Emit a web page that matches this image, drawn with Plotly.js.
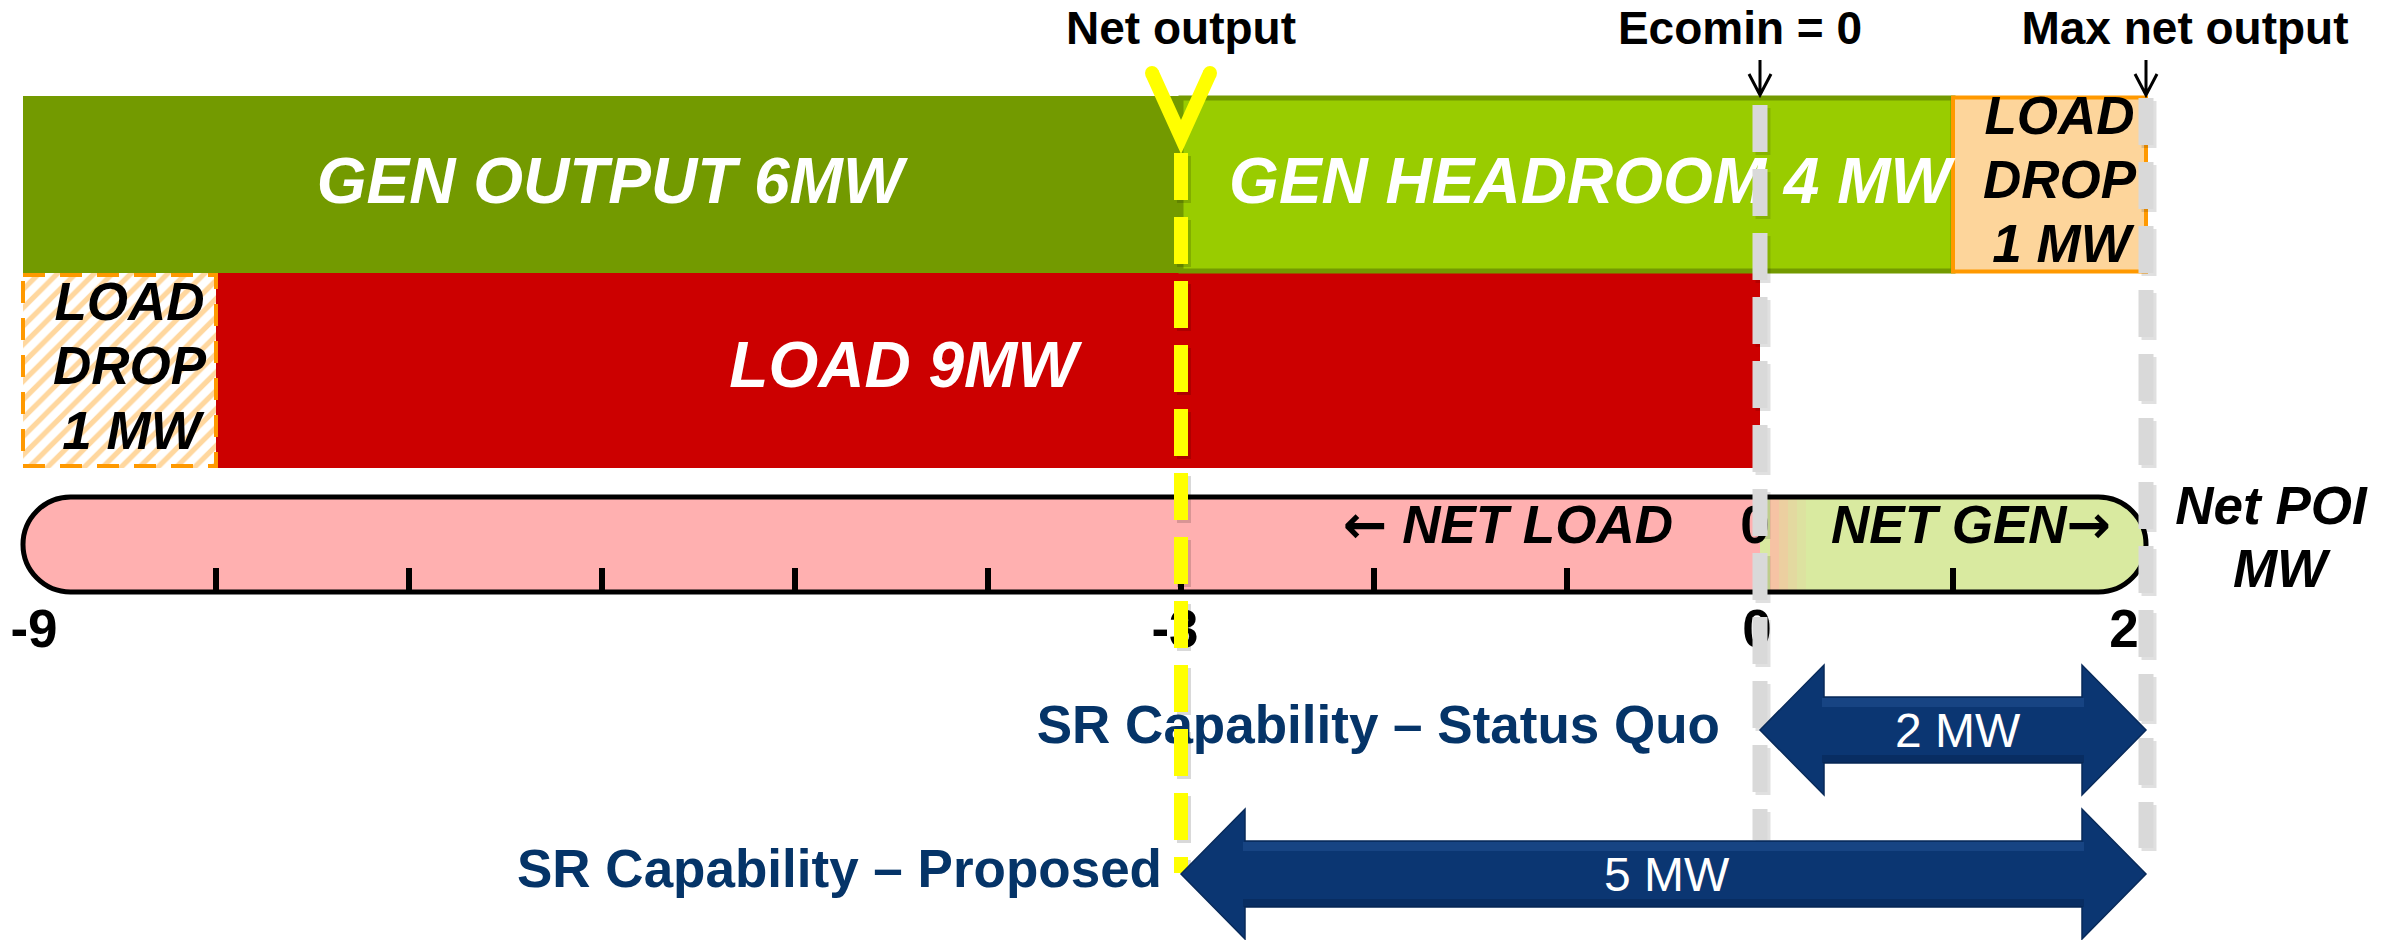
<!DOCTYPE html>
<html><head><meta charset="utf-8">
<script src="https://cdn.plot.ly/plotly-3.0.1.min.js"></script>
<style>html,body{margin:0;padding:0;background:#fff}#chart{width:2397px;height:940px}</style>
</head><body><div id="chart"></div>
<script>
// ---------------- data (MW on the Net POI axis) ----------------
const genOutputMW    = [-9, -3];
const genHeadroomMW  = [-3, 1];
const genLoadDropMW  = [1, 2];
const loadMW         = [-9, 0];
const loadDropMW     = [-9, -8];
const netLoadMW      = [-9, 0];
const netGenMW       = [0, 2];
const scaleTicksMW   = [-8, -7, -6, -5, -4, -3, -2, -1, 0, 1];
const axisLabelValues = [-9, -3, 0, 2];
const axisLabelText   = ['-9', '-3', '0', '2'];
const netOutputMW    = -3;
const ecominMW       = 0;
const maxNetOutputMW = 2;
const srStatusQuoMW  = [0, 2];
const srProposedMW   = [-3, 2];
const srStatusQuoLabel = '2 MW';
const srProposedLabel  = '5 MW';

// ---------------- geometry / style ----------------
const W = 2397, H = 940;
const PX_PER_UNIT = 193, ZERO_PX = 1760;
const px = p => p / PX_PER_UNIT;           // pixel length -> axis units
const mid = a => (a[0] + a[1]) / 2;
const ROW = {
  hdr: 32, arrowTop: 60, arrowBot: 95,
  genTop: 96, genBot: 273, loadBot: 468,
  pillTop: 497, pillBot: 592, tickTop: 568, axisLbl: 634,
  sq: 730, prop: 874
};
const C = {
  genOut: '#739a00', headroom: '#99cc00', load: '#cc0000',
  dropFill: '#fdd59b', orange: '#ff9900', pink: '#ffb0b0', green: '#d9eaa0',
  navy: '#0b3672', navyText: '#053468', gray: '#d9d9d9', yellow: '#ffff00'
};
const FAM = '"Liberation Sans", Arial, sans-serif';
const ARW = s => '<span style="font-family:\'DejaVu Sans\'">' + s + '</span>';

const shapes = [];
function rect(x, y0, y1, fill, line, lw, layer, dash) {
  shapes.push({type:'rect', xref:'x', yref:'y', x0:x[0], x1:x[1], y0:y0, y1:y1,
    fillcolor: fill, line:{color: line || 'rgba(0,0,0,0)', width: lw || 0, dash: dash || 'solid'},
    layer: layer || 'below'});
}
function path(d, fill, line, lw, layer) {
  shapes.push({type:'path', xref:'x', yref:'y', path:d, fillcolor: fill || 'rgba(0,0,0,0)',
    line:{color: line || 'rgba(0,0,0,0)', width: lw || 0}, layer: layer || 'below'});
}
function vline(x, y0, y1, color, w, dash, layer) {
  shapes.push({type:'line', xref:'x', yref:'y', x0:x, x1:x, y0:y0, y1:y1,
    line:{color:color, width:w, dash:dash || 'solid'}, layer: layer || 'above'});
}
const K = 0.5523;
function pillPath(xa, xb, top, bot, roundL, roundR) {
  const ry = (bot - top) / 2, rx = px(ry), m = (top + bot) / 2;
  let d = roundL ? `M${xa + rx},${top}` : `M${xa},${top}`;
  if (roundR) d += ` L${xb - rx},${top} C${xb - rx + K*rx},${top} ${xb},${m - K*ry} ${xb},${m} C${xb},${m + K*ry} ${xb - rx + K*rx},${bot} ${xb - rx},${bot}`;
  else d += ` L${xb},${top} L${xb},${bot}`;
  if (roundL) d += ` L${xa + rx},${bot} C${xa + rx - K*rx},${bot} ${xa},${m + K*ry} ${xa},${m} C${xa},${m - K*ry} ${xa + rx - K*rx},${top} ${xa + rx},${top}`;
  else d += ` L${xa},${bot}`;
  return d + ' Z';
}
function dblArrow(r, yc, head, headHalf, shaftHalf) {
  const a = r[0], b = r[1], h = px(head);
  return `M${a},${yc} L${a + h},${yc - headHalf} L${a + h},${yc - shaftHalf} L${b - h},${yc - shaftHalf} ` +
         `L${b - h},${yc - headHalf} L${b},${yc} L${b - h},${yc + headHalf} L${b - h},${yc + shaftHalf} ` +
         `L${a + h},${yc + shaftHalf} L${a + h},${yc + headHalf} Z`;
}

// ---- bars (below traces) ----
rect(genOutputMW, ROW.genTop, ROW.genBot, C.genOut);
rect(loadMW, ROW.genBot, ROW.loadBot, C.load);
rect(genHeadroomMW, ROW.genTop + 2, ROW.genBot - 2, C.headroom, C.genOut, 5);
rect(genLoadDropMW, ROW.genTop + 1.5, ROW.genBot - 1.5, C.dropFill, C.orange, 4);

// ---- Net POI scale pill ----
path(pillPath(netLoadMW[0], netLoadMW[1], ROW.pillTop, ROW.pillBot, true, false), C.pink);
path(pillPath(netGenMW[0], netGenMW[1], ROW.pillTop, ROW.pillBot, false, true), C.green);
// soft colour blend where NET LOAD meets NET GEN
const blend = ['#f6c3a4', '#eccfa0', '#e3d9a0', '#dde2a0'];
blend.forEach((c, i) => shapes.push({type:'rect', xref:'x', yref:'y',
  x0: netGenMW[0] + px(10 + i * 9), x1: netGenMW[0] + px(19 + i * 9),
  y0: ROW.pillTop, y1: ROW.pillBot, fillcolor: c, line:{width:0}, layer:'below'}));
path(pillPath(netLoadMW[0], netGenMW[1], ROW.pillTop, ROW.pillBot, true, true), null, '#000', 5);
scaleTicksMW.forEach(t => shapes.push({type:'line', xref:'x', yref:'y', x0:t, x1:t,
  y0:ROW.tickTop, y1:ROW.pillBot, line:{color:'#000', width:6}, layer:'below'}));

// ---- hatched load-drop border (above the pattern trace) ----
rect(loadDropMW, ROW.genBot + 2, ROW.loadBot - 2, 'rgba(0,0,0,0)', C.orange, 4, 'above', '22px,15px');

// ---- reference lines ----
const DASH = '47px,17px';
[[ecominMW, 105, 840], [maxNetOutputMW, 98, 848]].forEach(([x, a, b]) => {
  vline(x + px(3), a + 3, b + 3, 'rgba(0,0,0,0.12)', 15, DASH);
  vline(x, a, b, C.gray, 15, DASH);
});
vline(netOutputMW + px(3), 156, 873, 'rgba(0,0,0,0.15)', 14, DASH);
vline(netOutputMW, 153, 873, C.yellow, 14, DASH);
path(`M${netOutputMW - px(29)},73 L${netOutputMW},137 L${netOutputMW + px(29)},73`, null, C.yellow, 14, 'above');
[-1, 1].forEach(s => shapes.push({type:'circle', xref:'x', yref:'y',
  x0: netOutputMW + s * px(29) - px(7), x1: netOutputMW + s * px(29) + px(7), y0: 66, y1: 80,
  fillcolor: C.yellow, line:{width:0}, layer:'above'}));

// small black pointer arrows
[ecominMW, maxNetOutputMW].forEach(x => {
  path(`M${x},${ROW.arrowTop} L${x},${ROW.arrowBot} M${x - px(11)},${ROW.arrowBot - 21} L${x},${ROW.arrowBot} L${x + px(11)},${ROW.arrowBot - 21}`,
       null, '#000', 3, 'above');
});

// ---- SR capability arrows ----
[[srStatusQuoMW, ROW.sq], [srProposedMW, ROW.prop]].forEach(([r, yc]) => {
  path(dblArrow(r, yc, 64, 65, 33), C.navy, '#082a5a', 1.5, 'above');
  shapes.push({type:'rect', xref:'x', yref:'y', x0:r[0] + px(62), x1:r[1] - px(62),
    y0:yc - 32, y1:yc - 23, fillcolor:'rgba(70,120,190,0.22)', line:{width:0}, layer:'above'});
  shapes.push({type:'rect', xref:'x', yref:'y', x0:r[0] + px(62), x1:r[1] - px(62),
    y0:yc + 25, y1:yc + 33, fillcolor:'rgba(0,20,50,0.25)', line:{width:0}, layer:'above'});
});

// ---------------- traces ----------------
const traces = [];
// hatched left load-drop box
traces.push({type:'scatter', mode:'lines', hoverinfo:'skip', showlegend:false,
  x:[loadDropMW[0], loadDropMW[1], loadDropMW[1], loadDropMW[0], loadDropMW[0]],
  y:[ROW.genBot, ROW.genBot, ROW.loadBot, ROW.loadBot, ROW.genBot],
  fill:'toself', fillcolor:'#ffffff', line:{width:0},
  fillpattern:{shape:'/', fgcolor:'#ffd79e', bgcolor:'#ffffff', size:13, solidity:0.4}});

function textTrace(items, font) {
  traces.push({type:'scatter', mode:'text', hoverinfo:'skip', showlegend:false, cliponaxis:false,
    x: items.map(i => i[0]), y: items.map(i => i[1]), text: items.map(i => i[2]),
    textposition: items.map(i => i[3] || 'middle center'), textfont: font});
}
// headers
textTrace([
  [netOutputMW, ROW.hdr, 'Net output'],
  [ecominMW - px(20), ROW.hdr, 'Ecomin = 0'],
  [maxNetOutputMW + px(39), ROW.hdr, 'Max net output']
], {family:FAM, size:46, color:'#000', weight:'bold'});
// white bar labels
textTrace([
  [mid(genOutputMW) + px(8), 187, 'GEN OUTPUT 6MW'],
  [mid(genHeadroomMW) + px(23), 187, 'GEN HEADROOM 4 MW'],
  [mid(loadMW) + px(12), 371, 'LOAD 9MW']
], {family:FAM, size:64, color:'#fff', weight:'bold', style:'italic'});
// black italic labels
textTrace([
  [mid(loadDropMW) + px(10), 307, 'LOAD'], [mid(loadDropMW) + px(10), 371, 'DROP'], [mid(loadDropMW) + px(12), 436, '1 MW'],
  [mid(genLoadDropMW) + px(10), 121, 'LOAD'], [mid(genLoadDropMW) + px(10), 185, 'DROP'], [mid(genLoadDropMW) + px(12), 249, '1 MW'],
  [netLoadMW[1] - px(252), 530, ARW('\u2190') + ' NET LOAD'],
  [mid(netGenMW) + px(18), 530, 'NET GEN' + ARW('\u2192')],
  [maxNetOutputMW + px(125), 511, 'Net POI'],
  [maxNetOutputMW + px(134), 574, 'MW']
], {family:FAM, size:53, color:'#000', weight:'bold', style:'italic'});
// upright black numbers
const lblShift = [11, -6, -3, -22];
textTrace(axisLabelValues.map((v, i) => [v + px(lblShift[i]), ROW.axisLbl, axisLabelText[i]])
  .concat([[netGenMW[0] - px(5), 530, '0']]),
  {family:FAM, size:53, color:'#000', weight:'bold'});
// SR capability labels
textTrace([
  [srStatusQuoMW[0] - px(40), ROW.sq, 'SR Capability \u2013 Status Quo', 'middle left'],
  [srProposedMW[0] - px(19), ROW.prop, 'SR Capability \u2013 Proposed', 'middle left']
], {family:FAM, size:53, color:C.navyText, weight:'bold'});

const annotations = [
  {x: mid(srStatusQuoMW) + px(5), y: ROW.sq, text: srStatusQuoLabel},
  {x: mid(srProposedMW) + px(3), y: ROW.prop, text: srProposedLabel}
].map(a => Object.assign(a, {xref:'x', yref:'y', showarrow:false,
  font:{family:FAM, size:48, color:'#fff'}, xanchor:'center', yanchor:'middle'}));

const layout = {
  width: W, height: H, margin:{l:0, r:0, t:0, b:0},
  paper_bgcolor:'#fff', plot_bgcolor:'#fff', showlegend:false,
  xaxis:{range:[-ZERO_PX / PX_PER_UNIT, (W - ZERO_PX) / PX_PER_UNIT], visible:false, fixedrange:true},
  yaxis:{range:[H, 0], visible:false, fixedrange:true},
  shapes: shapes, annotations: annotations
};
Plotly.newPlot('chart', traces, layout, {staticPlot:true, displayModeBar:false});
</script></body></html>
